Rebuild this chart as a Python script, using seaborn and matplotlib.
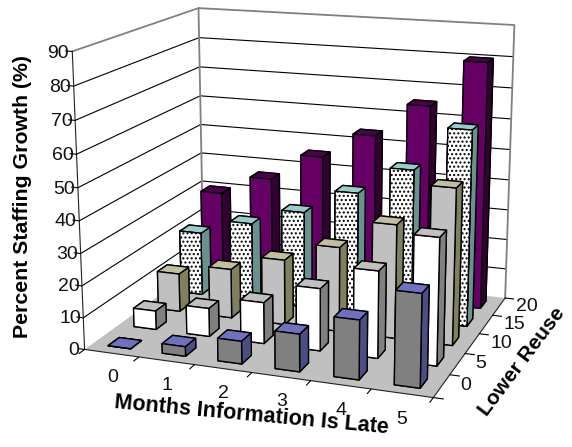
import numpy as np
import matplotlib
matplotlib.use("Agg")
import matplotlib.pyplot as plt
import seaborn as sns
from mpl_toolkits.mplot3d import proj3d
from mpl_toolkits.mplot3d.art3d import Poly3DCollection

months = [0, 1, 2, 3, 4, 5]
reuse_levels = [0, 5, 10, 15, 20]
growth_reuse_0 = [0, 3, 7, 11.5, 18, 28]
growth_reuse_5 = [6, 9, 13, 19.5, 27, 39]
growth_reuse_10 = [12.5, 16, 21, 27, 36, 49]
growth_reuse_15 = [21, 26, 31.5, 39.5, 48.5, 62.5]
growth_reuse_20 = [30, 36.5, 45.5, 54, 65, 80]
z_ticks = list(range(0, 100, 10))

# (front, side, top) face colours per series, front row first
face_colors = [
    ("#808080", "#4D4D85", "#7070C0"),
    ("#FFFFFF", "#808080", "#C0C0C0"),
    ("#C0C0C0", "#808060", "#C0C0A0"),
    ("#FFFFFF", "#6B9090", "#99CCCC"),
    ("#660066", "#330033", "#4D004D"),
]
series = [growth_reuse_0, growth_reuse_5, growth_reuse_10, growth_reuse_15, growth_reuse_20]

sns.set_theme(style="white", font="Liberation Sans")
W, H = 572, 447
fig = plt.figure(figsize=(W / 100, H / 100), dpi=100)
ax = fig.add_axes([0, 0, 1, 1], projection="3d", computed_zorder=False)
ax.set_xlim(0, 6)
ax.set_ylim(0, 5)
ax.set_zlim(0, 90)

# Camera and box proportions
ax.view_init(14.969, -69.9, 0.1024)
ax.set_box_aspect((1, 0.8187, 0.8364))
ax.set_proj_type("persp", focal_length=0.5382)

# Square axes placed so the projected box has the wanted size on the canvas
scale, centre_x, centre_y = 2847.16, 304.30, 183.60
view = ax.viewLim.frozen()
side_px = view.width * scale
ax.set_position([(centre_x + view.x0 * scale) / W,
                 (H - centre_y + view.y0 * scale) / H,
                 side_px / W, side_px / H])
ax.set_axis_off()

TEXT = "#111111"
TICK_FS = 14
projection = ax.get_proj()


def tick_label(x, y, z, text):
    """Place a label at a 3D location, as plain text on the projected plane."""
    px, py, _ = proj3d.proj_transform(x, y, z, projection)
    ax.text2D(px, py, text, transform=ax.transData, ha="center", va="center",
              fontsize=TICK_FS, color=TEXT)


# Floor, walls and gridlines
ax.add_collection3d(Poly3DCollection([[(0, 0, 0), (6, 0, 0), (6, 5, 0), (0, 5, 0)]],
                                     facecolor="#C0C0C0", edgecolor="none", zorder=1))
for z in z_ticks[1:-1]:
    ax.plot([0, 0, 6], [0, 5, 5], [z, z, z], color="black", lw=0.8, zorder=2)
ax.plot([0, 0, 6, 6], [0, 5, 5, 5], [90, 90, 90, 0], color="#808080", lw=1.3, zorder=2)
ax.plot([0, 0], [5, 5], [0, 90], color="#808080", lw=1.3, zorder=2)
ax.plot([0, 0], [0, 0], [0, 90], color="#222222", lw=0.8, zorder=3)
ax.plot([0, 6, 6], [0, 0, 5], [0, 0, 0], color="#222222", lw=0.8, zorder=3)

# Ticks and tick labels on the three axes
for z in z_ticks:
    ax.plot([0, -0.12], [0, 0], [z, z], color="black", lw=0.8, zorder=3)
    tick_label(-0.25 if z else -0.2, 0, z - 0.8, str(z))
for i in range(len(months) + 1):
    ax.plot([i, i], [0, -0.2], [0, 0], color="black", lw=0.8, zorder=3)
for i, m in enumerate(months):
    tick_label(i + 0.5, 0, -7.8, str(m))
for i in range(len(reuse_levels) + 1):
    ax.plot([6, 6.16], [i, i], [0, 0], color="black", lw=0.8, zorder=3)
for i, r in enumerate(reuse_levels):
    tick_label(6.5 if r >= 10 else 6.38, i + 0.5, 1, str(r))

# Bars, painted from the back row to the front row
bar_w, bar_d = 0.42, 0.42
order = 10
for row in range(len(series) - 1, -1, -1):
    front, side, top = face_colors[row]
    for i, val in enumerate(series[row]):
        x0 = i + 0.5 - bar_w / 2
        y0 = row + 0.5 - bar_d / 2
        ax.bar3d([x0], [y0], [0], bar_w, bar_d, [val],
                 color=[front, top, front, front, side, side],
                 edgecolor="black", linewidth=1.0, shade=False, zorder=order)
        order += 1
        if reuse_levels[row] == 15:
            # the dotted series carries its pattern on the front face only
            face = [(x0, y0, 0), (x0 + bar_w, y0, 0), (x0 + bar_w, y0, val), (x0, y0, val)]
            ax.add_collection3d(Poly3DCollection([face], facecolor="white", edgecolor="black",
                                                 linewidth=1.0, hatch="....", zorder=order))
            order += 1


def axis_title(px, py, text, rotation, size):
    fig.text(px / W, 1 - py / H, text, rotation=rotation, rotation_mode="anchor",
             ha="center", va="center", fontsize=size, fontweight="bold", color="black")


axis_title(23, 197, "Percent Staffing Growth (%)", 90, 15.3)
axis_title(252, 415, "Months Information Is Late", -5.3, 15.5)
axis_title(522, 362, "Lower Reuse", 53, 15)

fig.savefig("out.png", dpi=100)
